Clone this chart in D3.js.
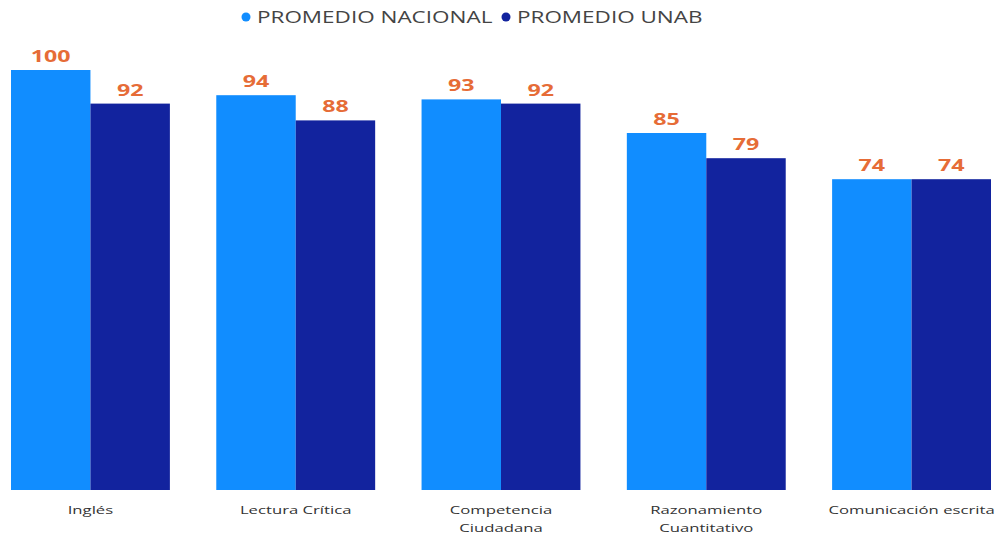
<!DOCTYPE html>
<html>
<head>
<meta charset="utf-8">
<script src="https://cdn.jsdelivr.net/npm/d3@7"></script>
<style>
  body { margin: 0; background: #fff; }
  svg text { font-family: "Open Sans", "Noto Sans", sans-serif; }
</style>
</head>
<body>
<div id="chart"></div>
<script>
// data
const categories = [["Inglés"], ["Lectura Crítica"], ["Competencia", "Ciudadana"], ["Razonamiento", "Cuantitativo"], ["Comunicación escrita"]];
const seriesNames = ["PROMEDIO NACIONAL", "PROMEDIO UNAB"];
const nacional = [100, 94, 93, 85, 74];
const unab = [92, 88, 92, 79, 74];

const colors = ["#118DFF", "#12239E"];
const labelColor = "#E66C37";

const width = 1003, height = 535;
// the reference text looks wide, stretch glyphs horizontally
const stretch = 1.45;

const rows = categories.map((c, i) => ({ key: c.join(" "), lines: c, values: [nacional[i], unab[i]] }));

const svg = d3.select("#chart").append("svg")
  .attr("width", width)
  .attr("height", height);

const x0 = d3.scaleBand()
  .domain(rows.map(d => d.key))
  .range([11, 991])
  .paddingInner(0.226)
  .paddingOuter(0);

const x1 = d3.scaleBand()
  .domain([0, 1])
  .range([0, x0.bandwidth()]);

const y = d3.scaleLinear().domain([0, 100]).range([490, 70]);

function widen(sel) {
  sel.each(function() {
    const len = this.getComputedTextLength();
    d3.select(this)
      .attr("textLength", len * stretch)
      .attr("lengthAdjust", "spacingAndGlyphs");
  });
}

const groups = svg.selectAll("g.group")
  .data(rows)
  .enter().append("g")
  .attr("class", "group")
  .attr("transform", d => "translate(" + x0(d.key) + ",0)");

groups.selectAll("rect")
  .data(d => d.values)
  .enter().append("rect")
  .attr("x", (v, i) => x1(i))
  .attr("y", v => y(v))
  .attr("width", x1.bandwidth())
  .attr("height", v => y(0) - y(v))
  .attr("fill", (v, i) => colors[i]);

groups.selectAll("text.val")
  .data(d => d.values)
  .enter().append("text")
  .attr("class", "val")
  .attr("x", (v, i) => x1(i) + x1.bandwidth() / 2)
  .attr("y", v => y(v) - 8)
  .attr("text-anchor", "middle")
  .attr("fill", labelColor)
  .attr("font-size", 16)
  .attr("font-weight", "bold")
  .text(v => v)
  .call(widen);

// category labels
const catLabels = groups.append("text")
  .attr("x", x0.bandwidth() / 2)
  .attr("y", 514)
  .attr("text-anchor", "middle")
  .attr("fill", "#333")
  .attr("font-size", 11.5);

catLabels.selectAll("tspan")
  .data(d => d.lines)
  .enter().append("tspan")
  .attr("x", x0.bandwidth() / 2)
  .attr("dy", (l, i) => i === 0 ? 0 : 18)
  .text(l => l)
  .each(function() {
    const len = this.getComputedTextLength();
    d3.select(this).attr("textLength", len * stretch).attr("lengthAdjust", "spacingAndGlyphs");
  });

// legend
const legendX = [246, 506];
const legend = svg.selectAll("g.legend")
  .data(seriesNames)
  .enter().append("g")
  .attr("class", "legend")
  .attr("transform", (d, i) => "translate(" + legendX[i] + ",17)");

legend.append("circle")
  .attr("r", 4.5)
  .attr("fill", (d, i) => colors[i]);

legend.append("text")
  .attr("x", 11)
  .attr("y", 6)
  .attr("fill", "#444")
  .attr("font-size", 15.5)
  .text(d => d)
  .call(widen);
</script>
</body>
</html>
